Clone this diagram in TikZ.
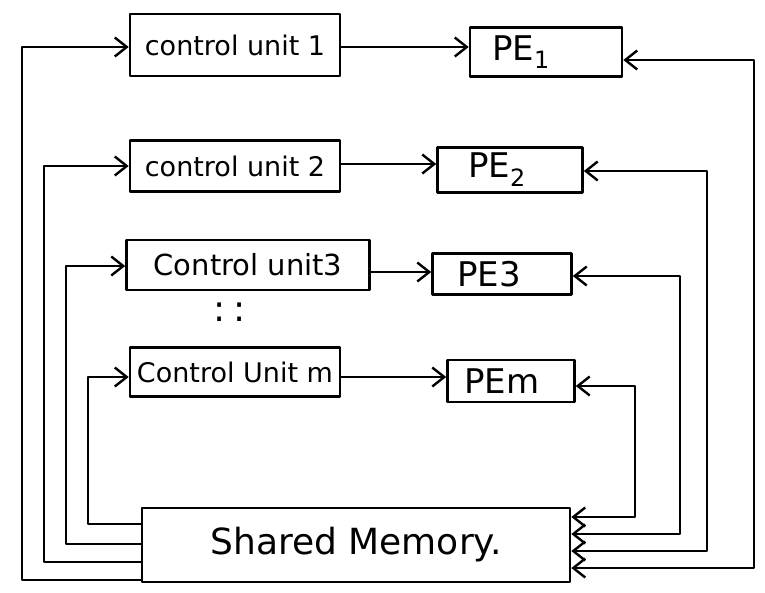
\documentclass[tikz,border=0pt]{standalone}
\usepackage{fontspec}
\setmainfont{DejaVu Sans}
\usetikzlibrary{arrows.meta}
\begin{document}
\begin{tikzpicture}[x=1pt,y=-1pt,
  line join=round, line cap=round,
  box/.style={draw,line width=2.6pt,inner sep=2pt,anchor=center},
  tip/.tip={Straight Barb[length=12pt,width=19pt]},
  conn/.style={line width=2.4pt,-tip},
  bconn/.style={line width=2.4pt,tip-tip},
  cutext/.style={font=\fontsize{27}{30}\selectfont},
  petext/.style={font=\fontsize{34}{38}\selectfont}
]
\useasboundingbox (0,0) rectangle (765,592);
% control units
\node[box,cutext,minimum width=210pt,minimum height=62pt] (cu1) at (235,45) {control unit 1};
\node[box,cutext,minimum width=210pt,minimum height=51pt] (cu2) at (235,166) {control unit 2};
\node[box,font=\fontsize{29}{32}\selectfont,minimum width=243pt,minimum height=50pt] (cu3) at (248,265) {Control unit3};
\node[box,cutext,minimum width=210pt,minimum height=49pt] (cum) at (235,372) {Control Unit m};
% processing elements
\node[box,petext,minimum width=152pt,minimum height=49pt] (pe1) at (546,52) {PE\textsubscript{1}\kern50pt};
\node[box,petext,minimum width=145pt,minimum height=45pt] (pe2) at (510,170) {PE\textsubscript{2}\kern26pt};
\node[box,petext,minimum width=139pt,minimum height=41pt] (pe3) at (502,274) {PE3\kern26pt};
\node[box,petext,minimum width=127pt,minimum height=42pt] (pem) at (511,381) {PEm\kern18pt};
% shared memory
\node[box,font=\fontsize{36}{40}\selectfont,minimum width=428pt,minimum height=74pt] (mem) at (356,545) {Shared Memory.};
% dots
\node[font=\fontsize{36}{40}\selectfont] (dots) at (230,312) {:\hspace{8pt}:};
% control unit -> PE
\draw[conn] (cu1.east |- 0,47) -- (pe1.west |- 0,47);
\draw[conn] (cu2.east |- 0,164) -- (pe2.west |- 0,164);
\draw[conn] (cu3.east |- 0,272) -- (pe3.west |- 0,272);
\draw[conn] (cum.east |- 0,377) -- (pem.west |- 0,377);
% memory -> control units
\coordinate (l1a) at (22,580); \coordinate (l1b) at (22,47);
\coordinate (l2a) at (44,562); \coordinate (l2b) at (44,166);
\coordinate (l3a) at (66,544); \coordinate (l3b) at (66,266);
\coordinate (l4a) at (88,524); \coordinate (l4b) at (88,377);
\draw[conn] (mem.west |- l1a) -- (l1a) -- (l1b) -- (cu1.west |- l1b);
\draw[conn] (mem.west |- l2a) -- (l2a) -- (l2b) -- (cu2.west |- l2b);
\draw[conn] (mem.west |- l3a) -- (l3a) -- (l3b) -- (cu3.west |- l3b);
\draw[conn] (mem.west |- l4a) -- (l4a) -- (l4b) -- (cum.west |- l4b);
% PE <-> memory
\coordinate (r1a) at (754,60);  \coordinate (r1b) at (754,568);
\coordinate (r2a) at (707,171); \coordinate (r2b) at (707,551);
\coordinate (r3a) at (680,276); \coordinate (r3b) at (680,534);
\coordinate (r4a) at (635,386); \coordinate (r4b) at (635,517);
\draw[bconn] (pe1.east |- r1a) -- (r1a) -- (r1b) -- (mem.east |- r1b);
\draw[bconn] (pe2.east |- r2a) -- (r2a) -- (r2b) -- (mem.east |- r2b);
\draw[bconn] (pe3.east |- r3a) -- (r3a) -- (r3b) -- (mem.east |- r3b);
\draw[bconn] (pem.east |- r4a) -- (r4a) -- (r4b) -- (mem.east |- r4b);
\end{tikzpicture}
\end{document}
